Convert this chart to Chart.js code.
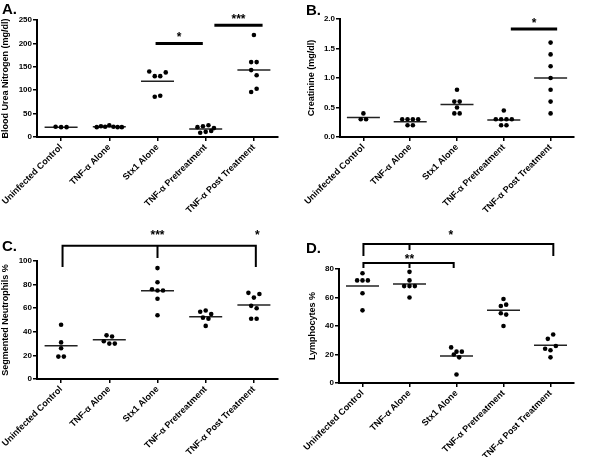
<!DOCTYPE html>
<html><head><meta charset="utf-8">
<script src="https://cdn.jsdelivr.net/npm/chart.js@4/dist/chart.umd.min.js"></script>
<style>
html,body{margin:0;padding:0;background:#fff;}
#wrap{position:relative;width:592px;height:457px;overflow:hidden;background:#fff;}
canvas{position:absolute;}
</style></head><body>
<div id="wrap">
<canvas id="cA" width="296" height="228" style="left:0px;top:0px"></canvas>
<canvas id="cB" width="296" height="228" style="left:296px;top:0px"></canvas>
<canvas id="cC" width="296" height="229" style="left:0px;top:228px"></canvas>
<canvas id="cD" width="296" height="229" style="left:296px;top:228px"></canvas>
</div>
<script>
// ---------- DATA ----------
const categories = ['Uninfected Control', 'TNF-α Alone', 'Stx1 Alone', 'TNF-α Pretreatment', 'TNF-α Post Treatment'];

// A. Blood Urea Nitrogen (mg/dl)
const bunValues = [
  [22, 21, 21],
  [21, 23, 22, 25, 22, 21, 21],
  [140, 130, 130, 138, 86, 88],
  [21, 23, 25, 19, 9, 11, 13],
  [218, 160, 160, 143, 132, 96, 103]
];
const bunMeans = [21, 22, 119, 17, 143];
const bunTicks = [0, 50, 100, 150, 200, 250];
const bunTickLabels = ['0', '50', '100', '150', '200', '250'];
const bunSigBars = [
  { from: 1.96, to: 2.94, y: 200, text: '*' },
  { from: 3.18, to: 4.18, y: 239, text: '***' }
];

// B. Creatinine (mg/dl)
const creatValues = [
  [0.4, 0.3, 0.3],
  [0.3, 0.3, 0.3, 0.3, 0.2, 0.2],
  [0.8, 0.6, 0.6, 0.5, 0.4, 0.4],
  [0.45, 0.3, 0.3, 0.3, 0.3, 0.2, 0.2],
  [1.6, 1.4, 1.2, 1.0, 0.8, 0.6, 0.4]
];
const creatMeans = [0.33, 0.26, 0.55, 0.29, 1.0];
const creatTicks = [0, 0.5, 1.0, 1.5, 2.0];
const creatTickLabels = ['0.0', '0.5', '1.0', '1.5', '2.0'];
const creatSigBars = [
  { from: 3.15, to: 4.14, y: 1.83, text: '*' }
];

// C. Segmented Neutrophils %
const neutValues = [
  [46, 31, 26, 19, 19],
  [37, 36, 32, 30, 30],
  [94, 82, 76, 75, 75, 68, 54],
  [57, 58, 55, 52, 51, 45],
  [73, 69, 72, 62, 60, 51, 51]
];
const neutMeans = [28.2, 33.3, 74.8, 52.8, 62.7];
const neutTicks = [0, 20, 40, 60, 80, 100];
const neutTickLabels = ['0', '20', '40', '60', '80', '100'];
const neutBrackets = [
  { from: 0.03, to: 4.04, y: 113, drop: 95, stems: [{ x: 2, to: 102.5 }] }
];
const neutSigTexts = [
  { x: 2, y: 118.6, text: '***' },
  { x: 4.07, y: 118.6, text: '*' }
];

// D. Lymphocytes %
const lymphValues = [
  [77, 72, 72, 72, 63, 51],
  [78, 72, 68, 68, 68, 60],
  [25, 22, 22, 20, 18, 6],
  [59, 54, 55, 49, 48, 40],
  [31, 34, 24, 23, 26, 18]
];
const lymphMeans = [68, 69.5, 19, 51, 26.5];
const lymphTicks = [0, 20, 40, 60, 80];
const lymphTickLabels = ['0', '20', '40', '60', '80'];
const lymphBrackets = [
  { from: 0.02, to: 4.06, y: 97.5, drop: 89.1, stems: [{ x: 1, to: 93.3 }] },
  { from: 0.02, to: 1.94, y: 84.2, drop: 80.7, stems: [{ x: 1, to: 80.7 }] }
];
const lymphSigTexts = [
  { x: 1.88, y: 101.4, text: '*' },
  { x: 1, y: 84.4, text: '**' }
];

// ---------- RENDERING ----------
const FONT = "'Liberation Sans', Arial, Helvetica, sans-serif";
Chart.defaults.font.family = FONT;
Chart.defaults.font.weight = 'bold';
Chart.defaults.color = '#000';

// horizontal spread of dots sharing (nearly) the same value, like a dot plot
function spreadOffsets(vals, tol) {
  const xs = new Array(vals.length);
  let i = 0;
  while (i < vals.length) {
    let j = i + 1;
    while (j < vals.length && Math.abs(vals[j] - vals[i]) <= tol) j++;
    const n = j - i;
    const dx = n > 1 ? Math.min(0.114, 0.52 / (n - 1)) : 0;
    for (let k = 0; k < n; k++) xs[i + k] = (k - (n - 1) / 2) * dx;
    i = j;
  }
  return xs;
}

function makePanel(id, P) {
  const yMax = P.ticks[P.ticks.length - 1];
  const tol = yMax * 0.045;
  const pts = [];
  P.values.forEach((grp, g) => {
    const off = spreadOffsets(grp, tol);
    grp.forEach((v, k) => pts.push({ x: g + off[k], y: v }));
  });
  const meanPts = P.means.map((m, g) => ({ x: g, y: m }));

  const sigPlugin = {
    id: 'sig_' + id,
    afterDatasetsDraw(chart) {
      const { ctx } = chart;
      const xs = chart.scales.x, ys = chart.scales.y;
      const X = v => xs.getPixelForValue(v), Y = v => ys.getPixelForValue(v);
      ctx.save();
      ctx.strokeStyle = '#000';
      ctx.fillStyle = '#000';
      ctx.lineCap = 'butt';
      ctx.lineJoin = 'miter';
      ctx.font = 'bold 12px ' + FONT;
      ctx.textAlign = 'center';
      ctx.textBaseline = 'alphabetic';
      (P.bars || []).forEach(b => {
        ctx.lineWidth = 3;
        ctx.beginPath();
        ctx.moveTo(X(b.from), Y(b.y));
        ctx.lineTo(X(b.to), Y(b.y));
        ctx.stroke();
        ctx.fillText(b.text, (X(b.from) + X(b.to)) / 2, Y(b.y) - 2);
      });
      (P.brackets || []).forEach(b => {
        ctx.lineWidth = 2;
        ctx.beginPath();
        ctx.moveTo(X(b.from), Y(b.drop));
        ctx.lineTo(X(b.from), Y(b.y));
        ctx.lineTo(X(b.to), Y(b.y));
        ctx.lineTo(X(b.to), Y(b.drop));
        b.stems.forEach(s => {
          ctx.moveTo(X(s.x), Y(b.y));
          ctx.lineTo(X(s.x), Y(s.to));
        });
        ctx.stroke();
      });
      (P.texts || []).forEach(t => ctx.fillText(t.text, X(t.x), Y(t.y)));
      ctx.font = 'bold 15px ' + FONT;
      ctx.textAlign = 'left';
      ctx.fillText(P.letter, P.letterX, P.letterY);
      ctx.restore();
    }
  };

  new Chart(document.getElementById(id), {
    type: 'scatter',
    data: {
      datasets: [
        { data: pts, pointRadius: 2.3, pointHoverRadius: 2.3, backgroundColor: '#000', borderWidth: 0 },
        { data: meanPts, pointStyle: 'line', pointRadius: 16.5, pointHoverRadius: 16.5, borderColor: '#222', borderWidth: 1.5 }
      ]
    },
    options: {
      responsive: false,
      animation: false,
      devicePixelRatio: 1,
      events: [],
      layout: { padding: { left: 0, top: P.padTop, right: P.padRight, bottom: 0 } },
      plugins: { legend: { display: false }, tooltip: { enabled: false } },
      scales: {
        x: {
          type: 'linear', min: -0.5, max: 4.5,
          afterBuildTicks: s => { s.ticks = categories.map((c, i) => ({ value: i })); },
          afterFit: s => { s.height = P.xHeight; s.paddingLeft = 0; s.paddingRight = 0; },
          ticks: {
            callback: v => categories[v], minRotation: 45, maxRotation: 45, autoSkip: false,
            padding: 1, color: '#000', font: { size: 9, weight: 'bold' }
          },
          grid: { drawOnChartArea: false, drawTicks: true, tickLength: 4, color: '#000', lineWidth: 1.5 },
          border: { display: true, color: '#000', width: 2 }
        },
        y: {
          type: 'linear', min: 0, max: yMax,
          afterBuildTicks: s => { s.ticks = P.ticks.map(v => ({ value: v })); },
          afterFit: s => { s.width = P.yWidth; s.paddingTop = 0; s.paddingBottom = 0; },
          ticks: {
            callback: v => P.tickLabels[P.ticks.indexOf(v)],
            padding: 1, color: '#000', font: { size: 8, weight: 'bold' }
          },
          grid: { drawOnChartArea: false, drawTicks: true, tickLength: 4, color: '#000', lineWidth: 1.5 },
          border: { display: true, color: '#000', width: 2 },
          title: {
            display: true, text: P.title, color: '#000',
            font: { size: 9, weight: 'bold' }, padding: { top: P.titlePad, bottom: 0 }
          }
        }
      }
    },
    plugins: [sigPlugin]
  });
}

makePanel('cA', {
  values: bunValues, means: bunMeans, ticks: bunTicks, tickLabels: bunTickLabels,
  title: 'Blood Urea Nitrogen (mg/dl)', bars: bunSigBars,
  letter: 'A.', letterX: 2, letterY: 14,
  yWidth: 37, padTop: 20, padRight: 9, xHeight: 91, titlePad: 0
});
makePanel('cB', {
  values: creatValues, means: creatMeans, ticks: creatTicks, tickLabels: creatTickLabels,
  title: 'Creatinine (mg/dl)', bars: creatSigBars,
  letter: 'B.', letterX: 10, letterY: 15,
  yWidth: 44, padTop: 19, padRight: 2, xHeight: 91, titlePad: 10.5
});
makePanel('cC', {
  values: neutValues, means: neutMeans, ticks: neutTicks, tickLabels: neutTickLabels,
  title: 'Segmented Neutrophils %', brackets: neutBrackets, texts: neutSigTexts,
  letter: 'C.', letterX: 2, letterY: 23,
  yWidth: 37, padTop: 33, padRight: 9, xHeight: 78, titlePad: 0
});
makePanel('cD', {
  values: lymphValues, means: lymphMeans, ticks: lymphTicks, tickLabels: lymphTickLabels,
  title: 'Lymphocytes %', brackets: lymphBrackets, texts: lymphSigTexts,
  letter: 'D.', letterX: 10, letterY: 25,
  yWidth: 43, padTop: 41, padRight: 13, xHeight: 74, titlePad: 11
});
</script>
</body></html>
